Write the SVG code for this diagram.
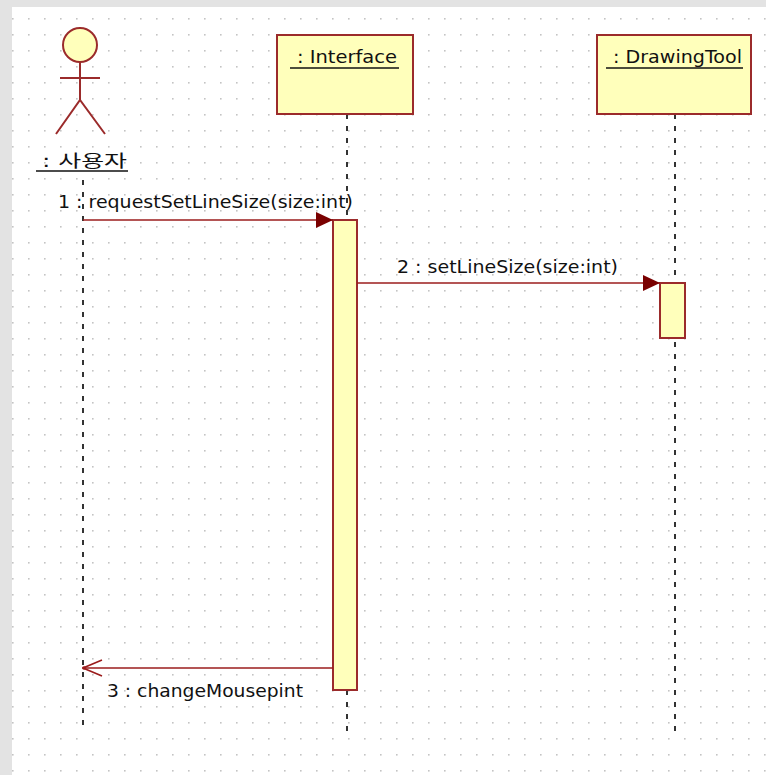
<svg xmlns="http://www.w3.org/2000/svg" width="766" height="775" viewBox="0 0 766 775">
<defs>
<pattern id="grid" x="5" y="11" width="16" height="16" patternUnits="userSpaceOnUse">
<rect x="7" y="7" width="1.6" height="1.6" fill="#c4c4c4"/>
</pattern>
<marker id="filled" markerWidth="18" markerHeight="16" refX="17" refY="8" orient="auto" markerUnits="userSpaceOnUse">
<path d="M0,0 L17,8 L0,16 Z" fill="#7a0000"/>
</marker>
<marker id="open" markerWidth="22" markerHeight="20" refX="21" refY="10" orient="auto" markerUnits="userSpaceOnUse">
<path d="M2,2 L21,10 L2,18" fill="none" stroke="#9b1c1c" stroke-width="1.6"/>
</marker>
</defs>
<style>
.box{fill:#ffffbb;stroke:#9b2b2b;stroke-width:2}
.life{stroke:#333;stroke-width:2;stroke-dasharray:5 7;fill:none}
.msg{stroke:#9b1c1c;stroke-width:1.6;fill:none}
.t{font-family:"DejaVu Sans","Liberation Sans","Noto Sans CJK KR",sans-serif;font-size:17px;fill:#111}
.ul{stroke:#111;stroke-width:1.3}
.actor{fill:none;stroke:#9b2b2b;stroke-width:2}
</style>
<rect x="0" y="0" width="766" height="775" fill="#e3e3e3"/>
<rect x="12" y="7" width="754" height="768" fill="#ffffff"/>
<rect x="12" y="7" width="754" height="768" fill="url(#grid)"/>

<g id="lifelines">
<line class="life" x1="83" y1="180" x2="83" y2="726"/>
<line class="life" x1="347" y1="114" x2="347" y2="734"/>
<line class="life" x1="675" y1="114" x2="675" y2="734"/>
</g>

<g id="actor-user">
<circle cx="80" cy="45" r="17" fill="#ffffbb" stroke="#9b2b2b" stroke-width="2"/>
<line class="actor" x1="80" y1="62" x2="80" y2="100"/>
<line class="actor" x1="60" y1="78" x2="100" y2="78"/>
<polyline class="actor" points="56,134 80,100 105,134"/>
<text class="t" x="42" y="167" font-size="19" textLength="85" lengthAdjust="spacingAndGlyphs">: 사용자</text>
<line class="ul" x1="36" y1="171" x2="128" y2="171"/>
</g>

<g id="interface">
<rect class="box" x="277" y="35" width="136" height="79"/>
<text class="t" x="297" y="63" textLength="100" lengthAdjust="spacingAndGlyphs">: Interface</text>
<line class="ul" x1="290" y1="68" x2="399" y2="68"/>
<rect class="box" x="333" y="220" width="24" height="470"/>
</g>

<g id="drawingtool">
<rect class="box" x="597" y="35" width="154" height="79"/>
<text class="t" x="613" y="63" textLength="129" lengthAdjust="spacingAndGlyphs">: DrawingTool</text>
<line class="ul" x1="606" y1="68" x2="743" y2="68"/>
<rect class="box" x="660" y="283" width="25" height="55"/>
</g>

<g id="connectors">
<line class="msg" x1="83" y1="220" x2="333" y2="220" marker-end="url(#filled)"/>
<text class="t" x="58" y="208" textLength="295" lengthAdjust="spacingAndGlyphs">1 : requestSetLineSize(size:int)</text>
<line class="msg" x1="357" y1="283" x2="660" y2="283" marker-end="url(#filled)"/>
<text class="t" x="397" y="273" textLength="221" lengthAdjust="spacingAndGlyphs">2 : setLineSize(size:int)</text>
<line class="msg" x1="333" y1="668" x2="83" y2="668" marker-end="url(#open)"/>
<circle cx="84" cy="668" r="1.8" fill="#9b1c1c"/>
<text class="t" x="107" y="697" textLength="196" lengthAdjust="spacingAndGlyphs">3 : changeMousepint</text>
</g>
</svg>
